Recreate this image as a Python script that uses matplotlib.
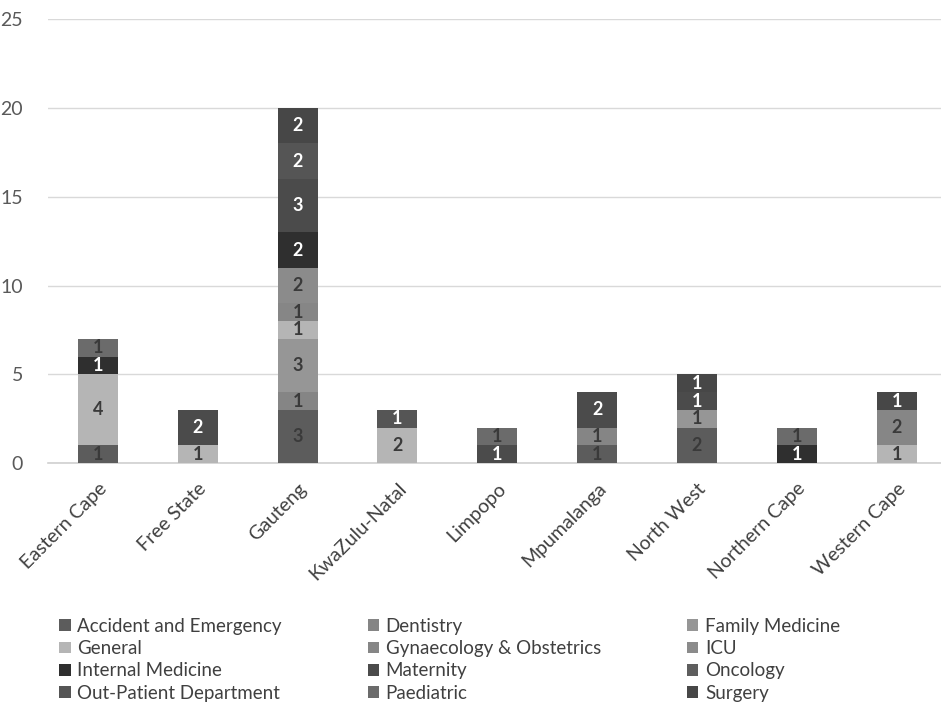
import matplotlib.pyplot as plt
import numpy as np

plt.rcParams['font.family'] = ['Lato', 'DejaVu Sans']

provinces = ['Eastern Cape', 'Free State', 'Gauteng', 'KwaZulu-Natal', 'Limpopo',
             'Mpumalanga', 'North West', 'Northern Cape', 'Western Cape']

# counts per speciality, one value per province (order as above)
accident    = [1, 0, 3, 0, 0, 1, 2, 0, 0]
dentistry   = [0, 0, 1, 0, 0, 1, 0, 0, 0]
family_med  = [0, 0, 3, 0, 0, 0, 1, 0, 0]
general     = [4, 1, 1, 2, 0, 0, 0, 0, 1]
gynae       = [0, 0, 1, 0, 0, 0, 0, 0, 2]
icu         = [0, 0, 2, 0, 0, 0, 0, 0, 0]
internal    = [1, 0, 2, 0, 0, 0, 0, 1, 0]
maternity   = [0, 2, 3, 0, 1, 2, 1, 0, 0]
oncology    = [0, 0, 0, 0, 0, 0, 0, 0, 0]
outpatient  = [0, 0, 2, 1, 0, 0, 0, 0, 0]
paediatric  = [1, 0, 0, 0, 1, 0, 0, 1, 0]
surgery     = [0, 0, 2, 0, 0, 0, 1, 0, 1]

series = [
    ('Accident and Emergency', accident, '#5c5c5c', '#3a3a3a'),
    ('Dentistry', dentistry, '#858585', '#3a3a3a'),
    ('Family Medicine', family_med, '#969696', '#3a3a3a'),
    ('General', general, '#b5b5b5', '#3a3a3a'),
    ('Gynaecology & Obstetrics', gynae, '#868686', '#3a3a3a'),
    ('ICU', icu, '#8b8b8b', '#3a3a3a'),
    ('Internal Medicine', internal, '#2f2f2f', 'white'),
    ('Maternity', maternity, '#4b4b4b', 'white'),
    ('Oncology', oncology, '#5e5e5e', 'white'),
    ('Out-Patient Department', outpatient, '#555555', 'white'),
    ('Paediatric', paediatric, '#6b6b6b', '#3a3a3a'),
    ('Surgery', surgery, '#474747', 'white'),
]

fig = plt.figure(figsize=(9.41, 7.04), dpi=100)
ax = fig.add_axes([0.051, 0.342, 0.955, 0.631])

x = np.arange(len(provinces))
bottom = np.zeros(len(provinces))
handles = []
for name, vals, col, tcol in series:
    vals = np.array(vals, dtype=float)
    bars = ax.bar(x, vals, 0.4, bottom=bottom, color=col, label=name, zorder=3)
    handles.append(bars)
    for xi, v, b in zip(x, vals, bottom):
        if v > 0:
            ax.text(xi, b + v / 2, f'{int(v)}', ha='center', va='center',
                    color=tcol, fontsize=13, fontweight='bold', zorder=4)
    bottom += vals

ax.set_ylim(0, 25)
ax.set_xlim(-0.5, len(provinces) - 0.5)
ax.set_yticks(range(0, 26, 5))
ax.yaxis.grid(True, color='#d9d9d9', linewidth=1, zorder=0)
for s in ['top', 'right', 'left']:
    ax.spines[s].set_visible(False)
ax.spines['bottom'].set_color('#d0d0d0')
ax.spines['bottom'].set_linewidth(1.2)
ax.tick_params(length=0, labelsize=14, colors='#595959', pad=12)
ax.tick_params(axis='y', pad=18)
ax.set_xticks(x)
ax.set_xticklabels(provinces, rotation=45, ha='right', rotation_mode='anchor')
for lbl in ax.get_xticklabels():
    lbl.set_color('#404040')

# row-wise ordering across three columns
order = [0, 3, 6, 9, 1, 4, 7, 10, 2, 5, 8, 11]
leg = fig.legend([handles[i] for i in order], [series[i][0] for i in order],
                 loc='upper left', bbox_to_anchor=(0.055, 0.133), ncol=3,
                 frameon=False, fontsize=13.5, labelcolor='#404040',
                 handlelength=0.6, handleheight=0.6, handletextpad=0.35,
                 columnspacing=4.6, labelspacing=0.28, borderaxespad=0)

fig.savefig('out.png', dpi=100)
